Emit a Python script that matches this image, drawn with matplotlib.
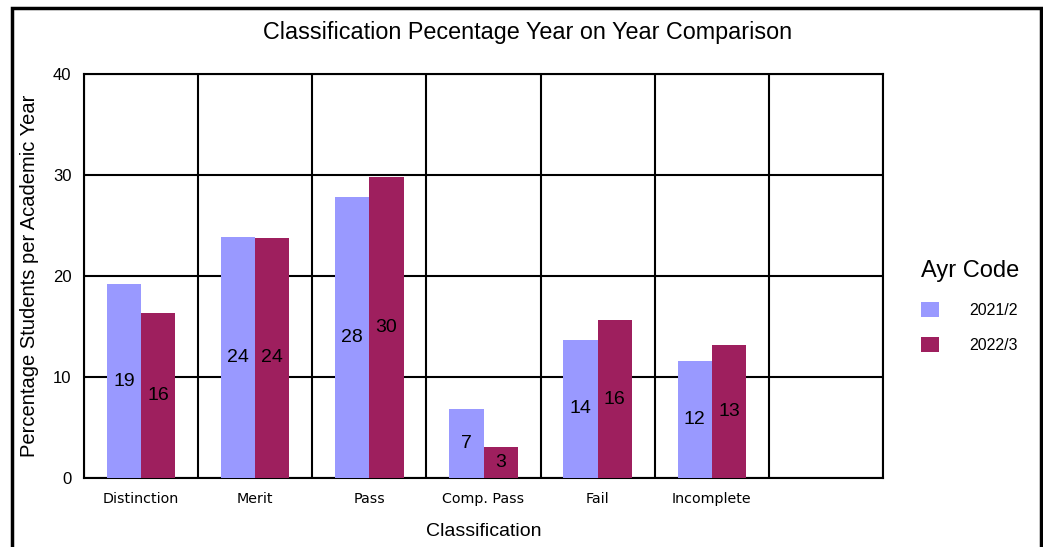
import matplotlib.pyplot as plt
from matplotlib.patches import Rectangle

categories = ['Distinction', 'Merit', 'Pass', 'Comp. Pass', 'Fail', 'Incomplete', '']
years = ['2021/2', '2022/3']
values_2021 = [19.2, 23.9, 27.8, 6.8, 13.7, 11.6]
values_2022 = [16.3, 23.8, 29.8, 3.1, 15.6, 13.2]
colors = ['#9999FF', '#9E1F5E']

plt.rcParams['font.family'] = ['Liberation Sans', 'DejaVu Sans']

fig = plt.figure(figsize=(10.43, 5.47), dpi=100)
ax = fig.add_axes([84 / 1043, 1 - 478 / 547, (883 - 84) / 1043, (478 - 74) / 547])

width = 0.3
xs = list(range(len(values_2021)))
for series, offset, color, label in [(values_2021, -0.15, colors[0], years[0]),
                                     (values_2022, 0.15, colors[1], years[1])]:
    bars = ax.bar([x + offset for x in xs], series, width, color=color,
                  label=label, zorder=3)
    for b, v in zip(bars, series):
        ax.text(b.get_x() + b.get_width() / 2, v / 2, '%d' % round(v),
                ha='center', va='center', fontsize=14, zorder=4)

ax.set_xlim(-0.5, len(categories) - 0.5)
ax.set_ylim(0, 40)
ax.set_yticks([0, 10, 20, 30, 40])
ax.set_xticks(range(len(categories)))
ax.set_xticklabels(categories, family='DejaVu Sans', fontsize=10.3)
ax.set_xticks([i - 0.5 for i in range(len(categories) + 1)], minor=True)
ax.tick_params(axis='both', which='both', length=0)
ax.tick_params(axis='y', labelsize=12, pad=9)
ax.tick_params(axis='x', pad=10)
ax.grid(True, which='minor', axis='x', color='black', linewidth=1.5, zorder=1)
ax.grid(True, which='major', axis='y', color='black', linewidth=1.5, zorder=1)
for s in ax.spines.values():
    s.set_linewidth(1.5)

ax.set_xlabel('Classification', fontsize=14, labelpad=12)
ax.set_ylabel('Percentage Students per Academic Year', fontsize=14.5, labelpad=10)
fig.text(528 / 1043, 1 - 33 / 547, 'Classification Pecentage Year on Year Comparison',
         ha='center', va='center', fontsize=16.8)

leg = fig.legend(loc='upper left', bbox_to_anchor=(907 / 1043, 1 - 246 / 547),
                 frameon=False, title='Ayr Code', fontsize=11.5,
                 title_fontsize=17, handlelength=1.1, handleheight=1.1,
                 handletextpad=1.9, labelspacing=1.2, alignment='left')

fig.patches.append(Rectangle((12 / 1043, -0.05), (1041 - 12) / 1043, 1.05 - 8 / 547,
                             transform=fig.transFigure, fill=False,
                             edgecolor='black', linewidth=2.5))

fig.savefig('out.png', dpi=100)
